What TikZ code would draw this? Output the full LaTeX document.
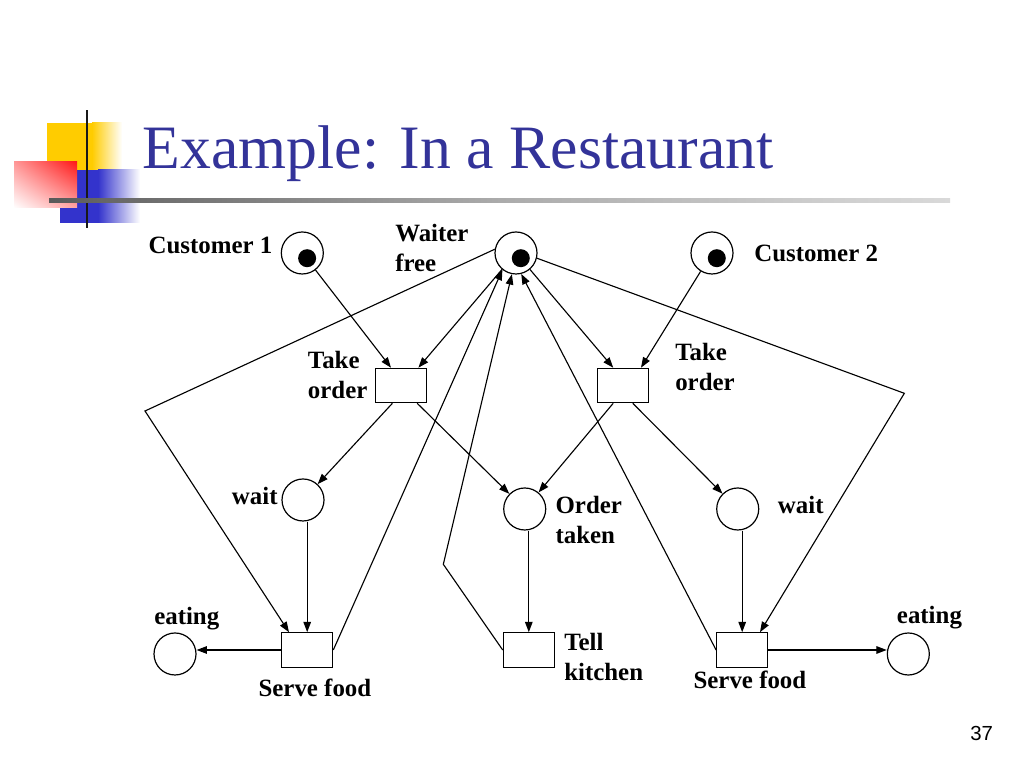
\documentclass[tikz,border=0pt]{standalone}
\usepackage{fontspec}
\setmainfont{Liberation Serif}
\newfontfamily\pagenumfont{Liberation Sans}
\usepackage{tikz}
\usetikzlibrary{arrows.meta, shapes.geometric, shadings}
\definecolor{titleblue}{RGB}{51, 51, 153}
\definecolor{padyellow}{RGB}{255, 204, 0}
\definecolor{padred}{RGB}{255, 25, 25}
\definecolor{padblue}{RGB}{51, 51, 204}
\newcommand{\lblfont}{\fontsize{17.7}{21.3}\selectfont\bfseries}
\pgfdeclarehorizontalshading{rulefade}{100bp}{color(0bp)=(black); color(10bp)=(black!90); color(28bp)=(black!60); color(50bp)=(black!33); color(67bp)=(black!20); color(89bp)=(black!6); color(100bp)=(white)}
\tikzset{
    place/.style={draw, circle, line width=0.85pt, minimum size=1.05cm, inner sep=0pt},
    token/.style={circle, fill=black, minimum size=0.45cm, inner sep=0pt},
    trans/.style={draw, rectangle, line width=0.85pt, minimum width=1.275cm, minimum height=0.86cm, inner sep=0pt},
    arcline/.style={-{Triangle[length=2.6mm, width=1.9mm]}, line width=0.8pt},
    netlabel/.style={font=\lblfont, align=left, inner sep=0pt},
}
\begin{document}
\begin{tikzpicture}
    \useasboundingbox (0, 0) rectangle (25.6, 19.2);

    % === Slide decoration ===
    \fill[padyellow] (1.175, 14.95) rectangle (2.3, 16.125);
    \shade[left color=padyellow, right color=white] (2.3, 14.95) rectangle (3.05, 16.125);
    \fill[padblue] (1.5, 13.625) rectangle (2.45, 14.95);
    \shade[left color=padblue, right color=white] (2.45, 13.625) rectangle (3.5, 14.95);
    \shade[upper left=padred!45, upper right=padred, lower left=white, lower right=padred!40] (0.35, 14.0) rectangle (1.925, 15.15);
    \fill[black!90] (2.14, 13.5) rectangle (2.21, 16.45);
    \shade[shading=rulefade] (1.225, 14.13) rectangle (23.75, 14.23);

    \node[font=\fontsize{43.9}{50}\selectfont, text=titleblue, anchor=base west, inner sep=0pt] (title) at (3.5625, 14.99) {Example: In a Restaurant};

    % === Places ===
    \node[place] (cust1) at (7.558, 12.875) {};
    \node[place] (waiter) at (12.9, 12.875) {};
    \node[place] (cust2) at (17.8, 12.875) {};
    \node[token] (cust1tok) at (7.678, 12.745) {};
    \node[token] (waitertok) at (13.02, 12.745) {};
    \node[token] (cust2tok) at (17.92, 12.745) {};

    \node[place] (wait1) at (7.575, 6.7) {};
    \node[place] (otaken) at (13.118, 6.475) {};
    \node[place] (wait2) at (18.443, 6.475) {};
    \node[place] (eat1) at (4.375, 2.85) {};
    \node[place] (eat2) at (22.708, 2.85) {};

    % === Transitions ===
    \node[trans] (to1) at (10.03, 9.5625) {};
    \node[trans] (to2) at (15.57, 9.5625) {};
    \node[trans] (sf1) at (7.68, 2.95) {};
    \node[trans] (tk) at (13.22, 2.95) {};
    \node[trans] (sf2) at (18.555, 2.95) {};

    % === Labels ===
    \node[netlabel, anchor=base west] (lcust1) at (3.708, 12.867) {Customer 1};
    \node[netlabel, anchor=north west] (lwaiter) at (9.875, 13.6075) {Waiter\\free};
    \node[netlabel, anchor=base west] (lcust2) at (18.85, 12.658) {Customer 2};
    \node[netlabel, anchor=north west] (lto1) at (7.692, 10.4175) {Take\\order};
    \node[netlabel, anchor=north west] (lto2) at (16.875, 10.625) {Take\\order};
    \node[netlabel, anchor=base west] (lwait1) at (5.792, 6.593) {wait};
    \node[netlabel, anchor=north west] (lotaken) at (13.883, 6.7925) {Order\\taken};
    \node[netlabel, anchor=base west] (lwait2) at (19.442, 6.368) {wait};
    \node[netlabel, anchor=base west] (leat1) at (3.85, 3.575) {eating};
    \node[netlabel, anchor=base west] (leat2) at (22.417, 3.6) {eating};
    \node[netlabel, anchor=base west] (lsf1) at (6.458, 1.783) {Serve food};
    \node[netlabel, anchor=north west] (ltk) at (14.1, 3.375) {Tell\\kitchen};
    \node[netlabel, anchor=base west] (lsf2) at (17.333, 1.993) {Serve food};

    % === Arcs ===
    \coordinate (c1) at (3.625, 8.925);
    \coordinate (c2) at (11.083, 5.0925);
    \coordinate (c3) at (22.608, 9.367);

    \draw[arcline] (cust1) -- ([xshift=-0.255cm]to1.north);
    \draw[arcline] (waiter) -- ([xshift=0.43cm]to1.north);
    \draw[arcline] (waiter) -- ([xshift=-0.24cm]to2.north);
    \draw[arcline] (cust2) -- ([xshift=0.455cm]to2.north);
    \draw[arcline] ([xshift=-0.22cm]to1.south) -- (wait1);
    \draw[arcline] ([xshift=0.4cm]to1.south) -- (otaken);
    \draw[arcline] ([xshift=-0.24cm]to2.south) -- (otaken);
    \draw[arcline] ([xshift=0.25cm]to2.south) -- (wait2);
    \draw[arcline] (wait1.south -| sf1.north) -- (sf1.north);
    \draw[arcline] (otaken.south -| tk.north) -- (tk.north);
    \draw[arcline] (wait2.south -| sf2.north) -- (sf2.north);
    \draw[arcline] (sf1.west) -- (sf1.west -| eat1.east);
    \draw[arcline] (sf2.east) -- (sf2.east -| eat2.west);
    \draw[arcline] (waiter.170) -- (c1) -- ([xshift=-0.455cm]sf1.north);
    \draw[arcline] (sf1.east) -- (waiter.231);
    \draw[arcline] (tk.west) -- (c2) -- (waiter.259);
    \draw[arcline] (sf2.west) -- (waiter.284);
    \draw[arcline] (waiter.346) -- (c3) -- ([xshift=0.445cm]sf2.north);

    \node[font=\pagenumfont\fontsize{14.5}{17}\selectfont, anchor=base west, inner sep=0pt] (pagenum) at (24.25, 0.675) {37};
\end{tikzpicture}
\end{document}
